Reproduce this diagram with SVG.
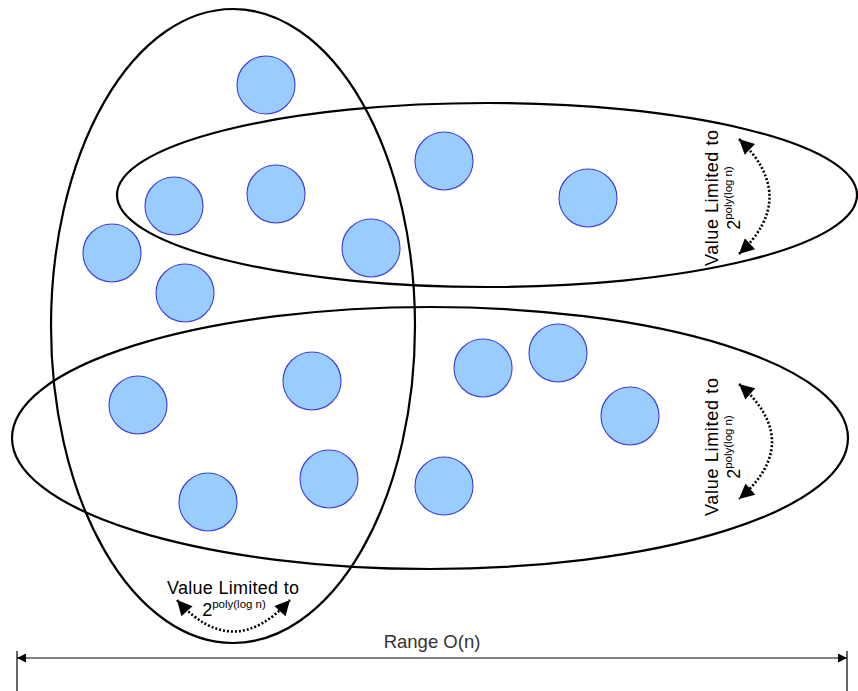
<svg xmlns="http://www.w3.org/2000/svg" width="858" height="691" viewBox="0 0 858 691">
<style>
.bg{fill:#ffffff}
.set{fill:none;stroke:#000;stroke-width:2.2}
.dot{fill:#99ccff;stroke:#3d3dd8;stroke-width:1.1}
.lbl{font-family:"Liberation Sans",Arial,sans-serif;font-size:18px;fill:#000}
.sup{font-size:11.5px}
.arc{fill:none;stroke:#000;stroke-width:2.6;stroke-dasharray:2 2}
.rng{font-family:"Liberation Sans",Arial,sans-serif;font-size:18.5px;fill:#333}
.dim{stroke:#000;stroke-width:1.2;fill:none}
</style>
<defs>
<marker id="ah" viewBox="0 0 10 10" refX="10" refY="5" markerWidth="17" markerHeight="15" markerUnits="userSpaceOnUse" orient="auto-start-reverse">
<path d="M0,0 L10,5 L0,10 z" fill="#000"/>
</marker>
<marker id="dh" viewBox="0 0 10 10" refX="10" refY="5" markerWidth="12" markerHeight="9" markerUnits="userSpaceOnUse" orient="auto-start-reverse">
<path d="M0,0 L10,5 L0,10 z" fill="#000"/>
</marker>
</defs>
<rect class="bg" x="0" y="0" width="858" height="691"/>
<g id="nodes">
<g id="n1"><circle class="dot" cx="266" cy="85" r="29"/></g>
<g id="n2"><circle class="dot" cx="444" cy="161" r="29"/></g>
<g id="n3"><circle class="dot" cx="588" cy="198" r="29"/></g>
<g id="n4"><circle class="dot" cx="174" cy="206" r="29"/></g>
<g id="n5"><circle class="dot" cx="276" cy="194" r="29"/></g>
<g id="n6"><circle class="dot" cx="371" cy="248" r="29"/></g>
<g id="n7"><circle class="dot" cx="112" cy="253" r="29"/></g>
<g id="n8"><circle class="dot" cx="185" cy="293" r="29"/></g>
<g id="n9"><circle class="dot" cx="312" cy="381" r="29"/></g>
<g id="n10"><circle class="dot" cx="483" cy="368" r="29"/></g>
<g id="n11"><circle class="dot" cx="558" cy="353" r="29"/></g>
<g id="n12"><circle class="dot" cx="138" cy="405" r="29"/></g>
<g id="n13"><circle class="dot" cx="630" cy="416" r="29"/></g>
<g id="n14"><circle class="dot" cx="329" cy="479" r="29"/></g>
<g id="n15"><circle class="dot" cx="444" cy="486" r="29"/></g>
<g id="n16"><circle class="dot" cx="208" cy="502" r="29"/></g>
</g>
<g id="sets">
<g id="setV"><ellipse class="set" cx="233" cy="326" rx="182" ry="317"/></g>
<g id="setTop"><ellipse class="set" cx="487" cy="195" rx="370" ry="92"/></g>
<g id="setBottom"><ellipse class="set" cx="430" cy="438" rx="418" ry="131"/></g>
</g>
<g id="labels">
<g id="labelTop">
<text class="lbl" transform="translate(718,198) rotate(-90)" text-anchor="middle" textLength="136" lengthAdjust="spacing">Value Limited to</text>
<text class="lbl" transform="translate(740,198) rotate(-90)" text-anchor="middle">2<tspan class="sup" dy="-8">poly(log n)</tspan></text>
</g>
<g id="labelBottomRight">
<text class="lbl" transform="translate(718,447) rotate(-90)" text-anchor="middle" textLength="138" lengthAdjust="spacing">Value Limited to</text>
<text class="lbl" transform="translate(740,447) rotate(-90)" text-anchor="middle">2<tspan class="sup" dy="-8">poly(log n)</tspan></text>
</g>
<g id="labelV">
<text class="lbl" x="233" y="594" text-anchor="middle" textLength="132" lengthAdjust="spacing">Value Limited to</text>
<text class="lbl" x="234" y="616" text-anchor="middle">2<tspan class="sup" dy="-8">poly(log n)</tspan></text>
</g>
<g id="labelRange">
<text class="rng" x="432" y="648" text-anchor="middle">Range O(n)</text>
</g>
</g>
<g id="connectors">
<path class="arc" d="M739 139 Q800 197 739 254" marker-start="url(#ah)" marker-end="url(#ah)"/>
<path class="arc" d="M739 384 Q805 442 739 499" marker-start="url(#ah)" marker-end="url(#ah)"/>
<path class="arc" d="M177 600 Q233 663 290 600" marker-start="url(#ah)" marker-end="url(#ah)"/>
<line class="dim" x1="17" y1="651" x2="17" y2="691"/>
<line class="dim" x1="847" y1="651" x2="847" y2="691"/>
<line class="dim" x1="17" y1="658" x2="847" y2="658" marker-start="url(#dh)" marker-end="url(#dh)"/>
</g>
</svg>
